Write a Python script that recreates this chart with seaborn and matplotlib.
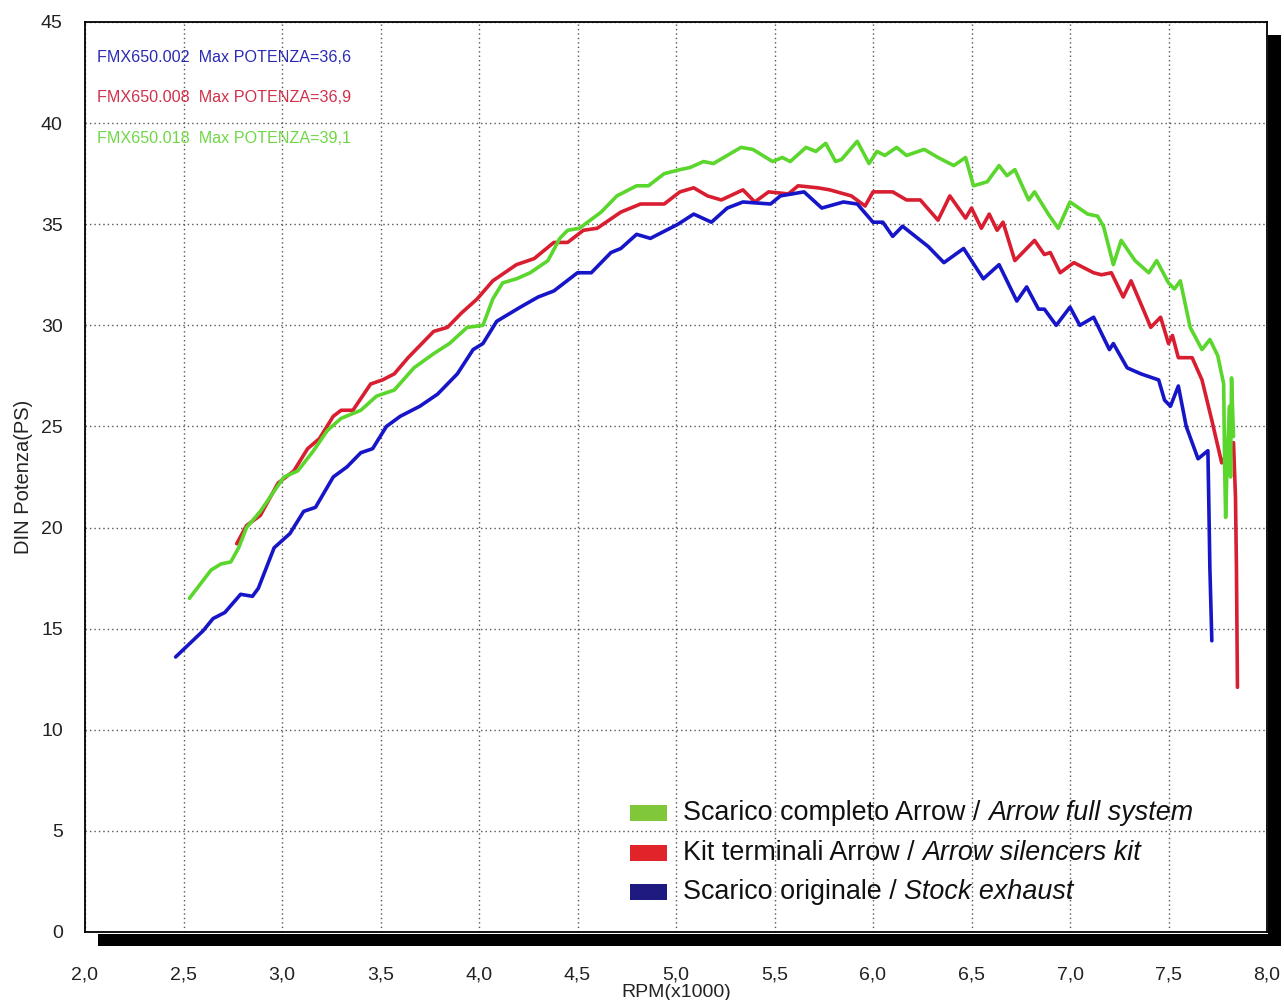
import numpy as np
import pandas as pd
import seaborn as sns
import matplotlib.pyplot as plt
from matplotlib.patches import Rectangle
from matplotlib.ticker import MultipleLocator

# --- data (RPM x1000, DIN PS) ---
rpm_stock = [2.46, 2.60, 2.65, 2.71, 2.79, 2.85, 2.88, 2.96, 3.04, 3.11,
             3.17, 3.26, 3.33, 3.40, 3.46, 3.53, 3.60, 3.70, 3.79, 3.89,
             3.97, 4.02, 4.09, 4.21, 4.30, 4.38, 4.50, 4.57, 4.67, 4.72,
             4.80, 4.87, 5.01, 5.09, 5.18, 5.26, 5.34, 5.48, 5.53, 5.65,
             5.74, 5.85, 5.92, 6.00, 6.05, 6.10, 6.15, 6.28, 6.36, 6.46,
             6.56, 6.64, 6.73, 6.78, 6.84, 6.87, 6.93, 7.00, 7.05, 7.12,
             7.20, 7.22, 7.29, 7.36, 7.45, 7.48, 7.51, 7.55, 7.59, 7.65,
             7.70, 7.705, 7.71, 7.72]
ps_stock = [13.6, 14.9, 15.5, 15.8, 16.7, 16.6, 17.0, 19.0, 19.7, 20.8,
            21.0, 22.5, 23.0, 23.7, 23.9, 25.0, 25.5, 26.0, 26.6, 27.6,
            28.8, 29.1, 30.2, 30.9, 31.4, 31.7, 32.6, 32.6, 33.6, 33.8,
            34.5, 34.3, 35.0, 35.5, 35.1, 35.8, 36.1, 36.0, 36.4, 36.6,
            35.8, 36.1, 36.0, 35.1, 35.1, 34.4, 34.9, 33.9, 33.1, 33.8,
            32.3, 33.0, 31.2, 31.9, 30.8, 30.8, 30.0, 30.9, 30.0, 30.4,
            28.8, 29.1, 27.9, 27.6, 27.3, 26.3, 26.0, 27.0, 25.0, 23.4,
            23.8, 21.0, 18.0, 14.4]

rpm_kit = [2.77, 2.82, 2.89, 2.98, 3.06, 3.13, 3.19, 3.26, 3.30, 3.36,
           3.45, 3.51, 3.57, 3.64, 3.77, 3.84, 3.91, 3.99, 4.07, 4.19,
           4.28, 4.38, 4.45, 4.53, 4.60, 4.72, 4.82, 4.94, 5.02, 5.09,
           5.16, 5.23, 5.34, 5.40, 5.47, 5.57, 5.62, 5.72, 5.78, 5.89,
           5.96, 6.00, 6.10, 6.17, 6.24, 6.33, 6.39, 6.47, 6.50, 6.55,
           6.59, 6.63, 6.66, 6.72, 6.82, 6.87, 6.90, 6.95, 7.02, 7.12,
           7.16, 7.21, 7.27, 7.31, 7.38, 7.41, 7.46, 7.50, 7.52, 7.55,
           7.62, 7.67, 7.72, 7.77, 7.83, 7.84, 7.845, 7.85]
ps_kit = [19.2, 20.1, 20.6, 22.2, 22.8, 23.9, 24.4, 25.5, 25.8, 25.8,
          27.1, 27.3, 27.6, 28.4, 29.7, 29.9, 30.6, 31.3, 32.2, 33.0,
          33.3, 34.1, 34.1, 34.7, 34.8, 35.6, 36.0, 36.0, 36.6, 36.8,
          36.4, 36.2, 36.7, 36.1, 36.6, 36.5, 36.9, 36.8, 36.7, 36.4,
          35.9, 36.6, 36.6, 36.2, 36.2, 35.2, 36.4, 35.3, 35.8, 34.8,
          35.5, 34.7, 35.1, 33.2, 34.2, 33.5, 33.6, 32.6, 33.1, 32.6,
          32.5, 32.6, 31.4, 32.2, 30.6, 29.9, 30.4, 29.1, 29.5, 28.4,
          28.4, 27.3, 25.3, 23.2, 24.2, 21.5, 17.9, 12.1]

rpm_full = [2.53, 2.64, 2.69, 2.74, 2.78, 2.82, 2.89, 2.96, 3.01, 3.08,
            3.16, 3.23, 3.30, 3.40, 3.48, 3.57, 3.67, 3.77, 3.85, 3.94,
            4.02, 4.07, 4.12, 4.19, 4.26, 4.35, 4.41, 4.45, 4.51, 4.62,
            4.70, 4.80, 4.86, 4.94, 5.02, 5.07, 5.14, 5.19, 5.33, 5.39,
            5.49, 5.54, 5.58, 5.66, 5.71, 5.76, 5.81, 5.84, 5.92, 5.98,
            6.02, 6.06, 6.12, 6.17, 6.26, 6.33, 6.41, 6.47, 6.51, 6.58,
            6.64, 6.68, 6.72, 6.79, 6.82, 6.89, 6.94, 7.00, 7.09, 7.14,
            7.17, 7.22, 7.26, 7.33, 7.40, 7.44, 7.50, 7.53, 7.56, 7.61,
            7.67, 7.71, 7.75, 7.78, 7.785, 7.79, 7.80, 7.81, 7.815, 7.82,
            7.83]
ps_full = [16.5, 17.9, 18.2, 18.3, 19.0, 20.0, 20.8, 21.8, 22.5, 22.8,
           23.8, 24.8, 25.4, 25.8, 26.5, 26.8, 27.9, 28.6, 29.1, 29.9,
           30.0, 31.3, 32.1, 32.3, 32.6, 33.2, 34.3, 34.7, 34.8, 35.6,
           36.4, 36.9, 36.9, 37.5, 37.7, 37.8, 38.1, 38.0, 38.8, 38.7,
           38.1, 38.3, 38.1, 38.8, 38.6, 39.0, 38.1, 38.2, 39.1, 38.0,
           38.6, 38.4, 38.8, 38.4, 38.7, 38.3, 37.9, 38.3, 36.9, 37.1,
           37.9, 37.4, 37.7, 36.2, 36.6, 35.5, 34.8, 36.1, 35.5, 35.4,
           34.9, 33.0, 34.2, 33.2, 32.6, 33.2, 32.1, 31.8, 32.2, 29.9,
           28.8, 29.3, 28.5, 27.1, 23.0, 20.5, 24.0, 26.0, 22.5, 27.4,
           24.5]

curve_names = ["FMX650.008", "FMX650.002", "FMX650.018"]
max_power = ["36,9", "36,6", "39,1"]
line_colors = {"FMX650.008": "#d81e30", "FMX650.002": "#1616c8", "FMX650.018": "#5ad62c"}
note_colors = {"FMX650.002": "#2a2ab4", "FMX650.008": "#d0304a", "FMX650.018": "#6ed844"}

legend_labels = [("Scarico completo Arrow / ", "Arrow full system", "#80c83a"),
                 ("Kit terminali Arrow / ", "Arrow silencers kit", "#e0242a"),
                 ("Scarico originale / ", "Stock exhaust", "#1f1a80")]

x_ticks = [2.0, 2.5, 3.0, 3.5, 4.0, 4.5, 5.0, 5.5, 6.0, 6.5, 7.0, 7.5, 8.0]
y_ticks = [0, 5, 10, 15, 20, 25, 30, 35, 40, 45]

df = pd.concat([
    pd.DataFrame({"rpm": rpm_kit, "ps": ps_kit, "curve": "FMX650.008"}),
    pd.DataFrame({"rpm": rpm_stock, "ps": ps_stock, "curve": "FMX650.002"}),
    pd.DataFrame({"rpm": rpm_full, "ps": ps_full, "curve": "FMX650.018"}),
], ignore_index=True)

sns.set_style("white")
plt.rcParams["font.family"] = ["Liberation Sans", "DejaVu Sans"]

fig = plt.figure(figsize=(12.84, 10), dpi=100)
ax = fig.add_axes([85 / 1284, 68 / 1000, 1182 / 1284, 910 / 1000])

# draw curves
sns.lineplot(data=df, x="rpm", y="ps", hue="curve", hue_order=curve_names,
             palette=line_colors, estimator=None, sort=False,
             linewidth=2.6, legend=False, ax=ax)
for ln in ax.get_lines():
    ln.set_solid_joinstyle("round")
    ln.set_solid_capstyle("round")

ax.set_xlim(2.0, 8.0)
ax.set_ylim(0, 45)
ax.set_xticks(x_ticks)
ax.set_xticklabels([f"{v:.1f}".replace(".", ",") for v in x_ticks])
ax.set_yticks(y_ticks)
ax.set_yticklabels([str(v) for v in y_ticks])
ax.xaxis.set_minor_locator(MultipleLocator(0.1))
ax.yaxis.set_minor_locator(MultipleLocator(1))

ax.tick_params(which="major", direction="out", length=6, width=0.8,
               color="#888888", labelsize=14, labelcolor="#222222")
ax.tick_params(axis="x", which="major", pad=19)
ax.tick_params(axis="y", which="major", pad=10)
ax.tick_params(axis="x", which="minor", direction="in", length=10, width=0.8, color="#666666")
ax.tick_params(axis="y", which="minor", direction="in", length=5, width=1.0, color="#444444")

ax.grid(which="major", linestyle=(0, (1, 2.2)), color="#555555", linewidth=1.0)
for side in ["left", "top", "right", "bottom"]:
    ax.spines[side].set_color("black")
    ax.spines[side].set_linewidth(1.3)

ax.set_xlabel("RPM(x1000)", fontsize=14, color="#222222", labelpad=0)
ax.set_ylabel("DIN Potenza(PS)", fontsize=14.5, color="#222222", labelpad=6)

# max power notes, top-left
note_y = {"FMX650.002": 0.9615, "FMX650.008": 0.9165, "FMX650.018": 0.8725}
for name, mp in zip(curve_names, max_power):
    ax.text(0.010, note_y[name], f"{name}  Max POTENZA={mp}", transform=ax.transAxes,
            fontsize=11.6, color=note_colors[name], va="center", ha="left")

# hand-made legend with roman + italic text
row_y = [0.131, 0.087, 0.044]
for (roman, italic, col), yy in zip(legend_labels, row_y):
    ax.add_patch(Rectangle((0.461, yy - 0.0085), 0.031, 0.017, transform=ax.transAxes,
                           facecolor=col, edgecolor="none", zorder=5))
    t1 = ax.text(0.506, yy, roman, transform=ax.transAxes, fontsize=19.4,
                 color="#111111", va="center", ha="left", zorder=5)
    ax.annotate(italic, xy=(1, 0), xycoords=t1, va="bottom", ha="left",
                fontsize=19.4, fontstyle="italic", color="#111111", zorder=5)

# black drop shadow around the plot frame
fig.add_artist(Rectangle((1268 / 1284, 54 / 1000), 13 / 1284, 911 / 1000,
                         transform=fig.transFigure, facecolor="black", edgecolor="none"))
fig.add_artist(Rectangle((98 / 1284, 54 / 1000), 1183 / 1284, 12 / 1000,
                         transform=fig.transFigure, facecolor="black", edgecolor="none"))

fig.savefig("out.png", dpi=100)
